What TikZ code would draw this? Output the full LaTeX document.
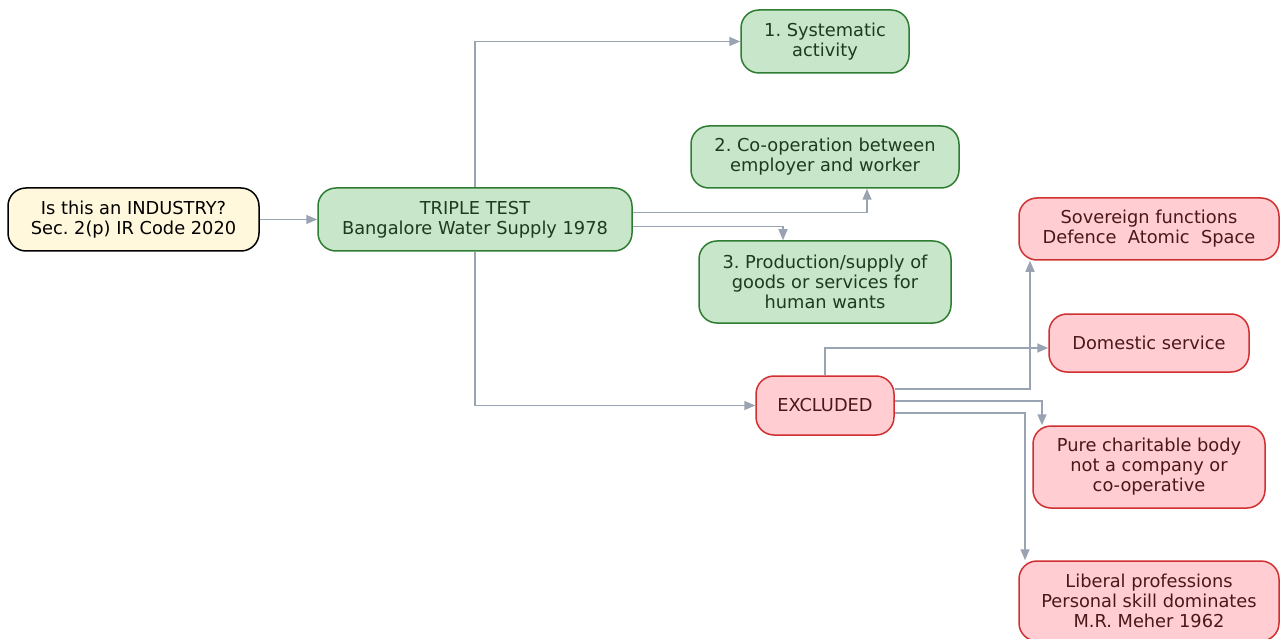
\documentclass[tikz,border=0pt]{standalone}
\usepackage{fontspec}
\setmainfont{DejaVu Sans}
\usetikzlibrary{arrows.meta}
\frenchspacing
\definecolor{edgec}{HTML}{9AA3B2}
\definecolor{gfill}{HTML}{C8E6C9}
\definecolor{gdraw}{HTML}{2E7D32}
\definecolor{gtext}{HTML}{1E3A20}
\definecolor{rfill}{HTML}{FFCDD2}
\definecolor{rdraw}{HTML}{D03030}
\definecolor{rtext}{HTML}{4A1818}
\definecolor{yfill}{HTML}{FFF8DC}
\tikzset{
  box/.style={rectangle, rounded corners=18pt, line width=1.5pt, inner sep=0pt, align=center,
    font=\fontsize{17.8}{20}\selectfont},
  ybox/.style={box, fill=yfill, draw=black, text=black},
  gbox/.style={box, fill=gfill, draw=gdraw, text=gtext},
  rbox/.style={box, fill=rfill, draw=rdraw, text=rtext},
  conn/.style={draw=edgec, line width=1.5pt, -{Triangle[length=11pt,width=9pt]}, rounded corners=0pt}
}
\begin{document}
\begin{tikzpicture}[x=1pt,y=-1pt]
\useasboundingbox (0,0) rectangle (1280,639);
\node[ybox, minimum width=251pt, minimum height=63pt] (Q) at (133.5,219.5) {Is this an INDUSTRY?\\Sec. 2(p) IR Code 2020};
\node[gbox, minimum width=314pt, minimum height=63pt] (TT) at (475,219.5) {TRIPLE TEST\\Bangalore Water Supply 1978};
\node[gbox, minimum width=168pt, minimum height=63pt] (S1) at (825,41.5) {1. Systematic\\activity};
\node[gbox, minimum width=268pt, minimum height=62pt] (S2) at (825,157) {2. Co-operation between\\employer and worker};
\node[gbox, minimum width=252pt, minimum height=82pt] (S3) at (825,282) {3. Production/supply of\\goods or services for\\human wants};
\node[rbox, minimum width=138pt, minimum height=59pt] (EX) at (825,405.5) {EXCLUDED};
\node[rbox, minimum width=260pt, minimum height=62pt] (SOV) at (1149,229) {Sovereign functions\\Defence\ \ Atomic\ \ Space};
\node[rbox, minimum width=200pt, minimum height=58pt] (DOM) at (1149,343) {Domestic service};
\node[rbox, minimum width=232pt, minimum height=82pt] (PURE) at (1149,467) {Pure charitable body\\not a company or\\co-operative};
\node[rbox, minimum width=260pt, minimum height=80pt] (LIB) at (1149,601) {Liberal professions\\Personal skill dominates\\M.R. Meher 1962};

\draw[conn] (Q.east) -- (TT.west);
\draw[conn] (TT.north) |- (S1.west);
\draw[conn] ([yshift=7pt]TT.east) -| ([xshift=42pt]S2.south);
\draw[conn] ([yshift=-7pt]TT.east) -| ([xshift=-42pt]S3.north);
\draw[conn] (TT.south) |- (EX.west);
\draw[conn] ([yshift=16.5pt]EX.east) -| ([xshift=-119pt]SOV.south);
\draw[conn] (EX.north) |- ([yshift=-5pt]DOM.west);
\draw[conn] ([yshift=4.5pt]EX.east) -| ([xshift=-107pt]PURE.north);
\draw[conn] ([yshift=-7.5pt]EX.east) -| ([xshift=-124pt]LIB.north);
\end{tikzpicture}
\end{document}
